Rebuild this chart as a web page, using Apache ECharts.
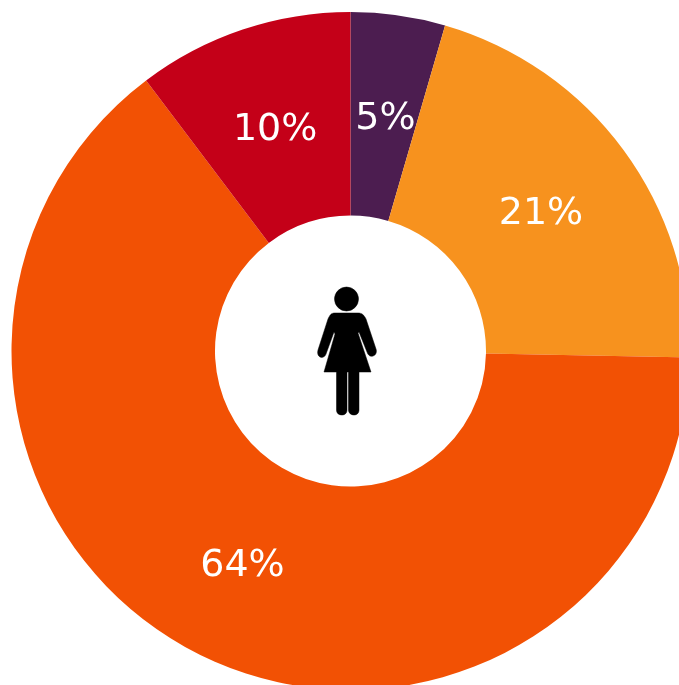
<!DOCTYPE html>
<html lang="en">
<head>
    <meta charset="UTF-8">
    <title>Title</title>
    <style>html,body{margin:0;padding:0;background:#fff;overflow:hidden}</style>
</head>
<body>
<div class="main" style="width: 679px;height: 685px"></div>
<script src="https://cdn.jsdelivr.net/npm/echarts@6/dist/echarts.min.js"></script>
<script>
    var categories = ["A", "B", "C", "D"];
    var values = [4.5, 20.8, 64.4, 10.3];
    var colors = ["#4c1d50", "#f7921e", "#f25104", "#c40018"];
    var labelShift = [[1, 6], [-3, 6], [1, 1], [1, 7]];

    // woman pictogram, path is in a local 58x128 box
    var womanPath = "M28.5 0a12 12 0 1 1 0 24a12 12 0 1 1 0 -24z" +
        "M17 26L40 26C44 26 46 28 48 32L58 62C59 65 58 68 55 69C52 70 50 68 49 65L41 45L40 46L53 85L41 85L41 123C41 126 39 128 36 128C33 128 30.500 126 30.500 123L30.500 85L29 85L29 123C29 126 27 128 24 128C20.500 128 18.500 126 18.500 123L18.500 85L6 85L17 47L16 45L8 67C7 70 4 71 2 70C0 69 -1 66 0 63L10 32C12 28 13 26 17 26z";

    echarts.graphic.registerShape("woman", echarts.graphic.extendPath(womanPath));

    var mainEcharts = echarts.init(document.querySelector(".main"));
    var data = categories.map(function (c, i) {
        return {name: c, value: values[i], itemStyle: {color: colors[i]}, label: {offset: labelShift[i]}};
    });

    mainEcharts.setOption({
        animation: false,
        graphic: [{
            type: "woman",
            x: 318,
            y: 287,
            style: {fill: "#000", stroke: "#000", lineWidth: 0.5}
        }],
        series: [{
            type: "pie",
            center: [350.5, 351],
            radius: [135.5, 339],
            startAngle: 90,
            clockwise: true,
            percentPrecision: 0,
            data: data,
            labelLine: {show: false},
            label: {
                show: true,
                position: "inside",
                formatter: "{d}%",
                color: "#fff",
                fontFamily: "DejaVu Sans",
                fontSize: 38
            }
        }]
    });

    window.onresize = function () { mainEcharts.resize(); };
</script>
</body>
</html>
